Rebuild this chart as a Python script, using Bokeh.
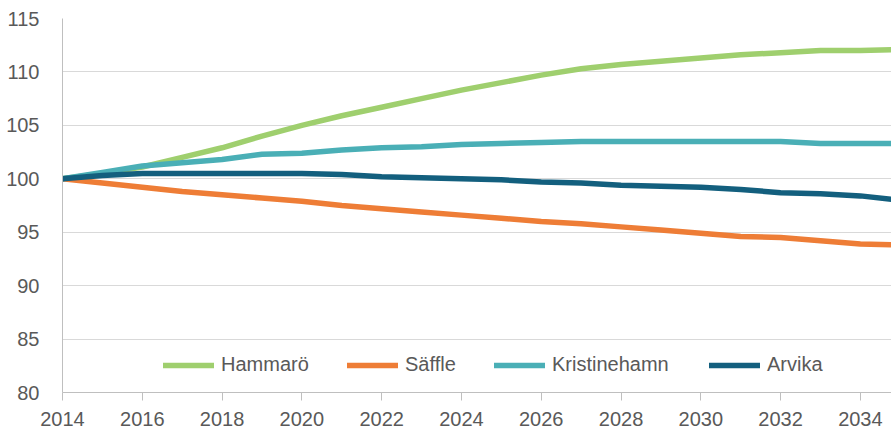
from bokeh.plotting import figure
from bokeh.models import Range1d, Legend, LegendItem, FixedTicker
from bokeh.embed import file_html
from bokeh.resources import INLINE

years = list(range(2014, 2036))
hammaro = [100, 100.5, 101.1, 102.0, 102.9, 104.0, 105.0, 105.9, 106.7, 107.5, 108.3,
           109.0, 109.7, 110.3, 110.7, 111.0, 111.3, 111.6, 111.8, 112.0, 112.0, 112.1]
saffle = [100, 99.6, 99.2, 98.8, 98.5, 98.2, 97.9, 97.5, 97.2, 96.9, 96.6,
          96.3, 96.0, 95.8, 95.5, 95.2, 94.9, 94.6, 94.5, 94.2, 93.9, 93.8]
kristinehamn = [100, 100.6, 101.2, 101.5, 101.8, 102.3, 102.4, 102.7, 102.9, 103.0, 103.2,
                103.3, 103.4, 103.5, 103.5, 103.5, 103.5, 103.5, 103.5, 103.3, 103.3, 103.3]
arvika = [100, 100.3, 100.5, 100.5, 100.5, 100.5, 100.5, 100.4, 100.2, 100.1, 100.0,
          99.9, 99.7, 99.6, 99.4, 99.3, 99.2, 99.0, 98.7, 98.6, 98.4, 98.0]

names = ["Hammarö", "Säffle", "Kristinehamn", "Arvika"]
colors = ["#9FCF6E", "#EE7D36", "#4AAFB6", "#135F7E"]
series = [hammaro, saffle, kristinehamn, arvika]
xticks = list(range(2014, 2036, 2))
yticks = list(range(80, 116, 5))

FONT = "Liberation Sans"
TXT = "#595959"

p = figure(width=891, height=428, output_backend="svg", toolbar_location=None,
           x_range=Range1d(2014, 2034.78), y_range=Range1d(80, 115),
           min_border_left=62, min_border_right=0, min_border_top=18, min_border_bottom=36)
p.outline_line_color = None
p.background_fill_color = "white"

renderers = []
for name, col, vals in zip(names, colors, series):
    r = p.line(years, vals, line_color=col, line_width=5.5, line_join="round", line_cap="round")
    renderers.append((name, r))

p.xgrid.grid_line_color = None
p.ygrid.grid_line_color = "#D9D9D9"
p.ygrid.grid_line_width = 1
p.ygrid.ticker = FixedTicker(ticks=yticks)

p.xaxis.ticker = FixedTicker(ticks=xticks)
p.yaxis.ticker = FixedTicker(ticks=yticks)
for ax in (p.xaxis[0], p.yaxis[0]):
    ax.axis_line_color = "#BFBFBF"
    ax.axis_line_width = 1
    ax.major_label_text_font = FONT
    ax.major_label_text_font_size = "20px"
    ax.major_label_text_color = TXT
    ax.minor_tick_line_color = None
p.yaxis.major_tick_line_color = None
p.yaxis.major_label_standoff = 17
p.xaxis.major_tick_line_color = "#BFBFBF"
p.xaxis.major_tick_out = 8
p.xaxis.major_tick_in = 0
p.xaxis.major_label_standoff = 11

# legend item start positions (px from frame left)
leg_x = [101, 285, 432, 647]
for (name, r), lx in zip(renderers, leg_x):
    lg = Legend(items=[LegendItem(label=name, renderers=[r])],
                orientation="horizontal", location=(lx, 16),
                glyph_width=51, glyph_height=20, label_height=20,
                label_standoff=7, spacing=0, padding=0, margin=0,
                label_text_font=FONT, label_text_font_size="20px", label_text_color=TXT,
                border_line_color=None, background_fill_color="white", background_fill_alpha=1)
    p.add_layout(lg, "center")

open("out.html", "w").write(file_html(p, INLINE))
